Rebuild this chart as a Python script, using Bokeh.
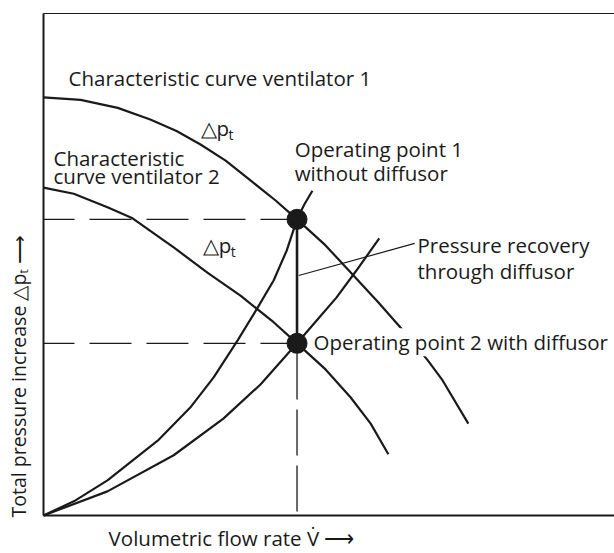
from bokeh.plotting import figure
from bokeh.models import Label
from bokeh.embed import file_html
from bokeh.resources import INLINE

# Characteristic curves of the two ventilators (relative units)
fan1_x = [0, 6.5, 13.0, 18.7, 23.3, 27.5, 31.9, 36.3, 40.6, 44.4, 49.4, 53.8, 58.7, 63.4, 67.3, 69.9, 74.4]
fan1_y = [83.3, 82.8, 81.2, 78.9, 76.6, 73.9, 70.7, 66.7, 62.8, 59.0, 53.8, 48.4, 42.4, 36.3, 30.9, 26.9, 18.3]
fan2_x = [0, 5.3, 11.2, 15.6, 22.8, 28.7, 34.5, 40.3, 44.4, 49.4, 53.8, 57.3, 60.4]
fan2_y = [65.3, 64.1, 61.4, 59.2, 53.4, 48.4, 43.8, 38.5, 34.3, 29.1, 23.5, 18.3, 12.2]
# System (plant) curves from the origin
sys1_x = [0, 5.6, 11.2, 20.0, 25.7, 29.8, 34.0, 37.5, 40.3, 42.6, 44.4, 45.7, 47.1]
sys1_y = [0, 3.0, 7.0, 14.9, 21.5, 27.5, 34.9, 41.4, 46.8, 52.8, 59.0, 62.0, 64.7]
sys2_x = [0, 11.2, 22.8, 31.5, 38.0, 44.4, 47.8, 51.3, 54.8, 58.8]
sys2_y = [0, 4.8, 12.0, 19.3, 26.1, 34.3, 38.8, 43.4, 48.8, 55.2]
# Operating points
op_x = [44.4, 44.4]
op_y = [59.0, 34.3]
# Leader line for "Pressure recovery"
lead_x = [44.7, 65.0]
lead_y = [47.8, 54.2]
# Axis extent (diagram box)
box_x = [0, 100]
box_y = [0, 100]

INK = "#1a1a1a"
FONT = "Open Sans"
FS = "20.5px"

p = figure(width=614, height=553, x_range=(-7.53, 100), y_range=(-7.57, 102.59),
           output_backend="svg", toolbar_location=None,
           min_border_left=0, min_border_right=0, min_border_top=0, min_border_bottom=0)
p.outline_line_color = None
p.grid.visible = False
p.axis.visible = False
p.background_fill_color = "white"
p.border_fill_color = "white"

# diagram box: left axis, bottom axis, top line
p.line([box_x[0], box_x[0]], box_y, line_color=INK, line_width=2)
p.line(box_x, [box_y[0], box_y[0]], line_color=INK, line_width=2)
p.line(box_x, [box_y[1], box_y[1]], line_color=INK, line_width=1.2)

# dashed helper lines
p.line([0, op_x[0]], [op_y[0], op_y[0]], line_color=INK, line_width=1.3, line_dash="42 15", line_dash_offset=11)
p.line([0, op_x[1]], [op_y[1], op_y[1]], line_color=INK, line_width=1.3, line_dash="42 15", line_dash_offset=11)
p.line([op_x[1], op_x[1]], [0.8, op_y[1]], line_color=INK, line_width=1.3, line_dash="46 10")

# curves
p.line(fan1_x, fan1_y, line_color=INK, line_width=2.2)
p.line(fan2_x, fan2_y, line_color=INK, line_width=2.2)
p.line(sys1_x, sys1_y, line_color=INK, line_width=2.2)
p.line(sys2_x, sys2_y, line_color=INK, line_width=2.2)

# pressure recovery
p.line(op_x, op_y, line_color=INK, line_width=2.6)
p.line(lead_x, lead_y, line_color=INK, line_width=1.2)

p.scatter(op_x, op_y, size=20, fill_color=INK, line_color=INK)

def lab(x, y, text, size=FS, **kw):
    opts = dict(text_font=FONT, text_font_size=size, text_color=INK,
                text_align="left", text_baseline="middle")
    opts.update(kw)
    p.add_layout(Label(x=x, y=y, text=text, **opts))

lab(4.4, 87.1, "Characteristic curve ventilator 1")
lab(27.5, 77.1, "\u25b3p")
lab(32.4, 75.8, "t", size="14px")
lab(1.75, 71.3, "Characteristic")
lab(1.75, 67.7, "curve ventilator 2")
lab(44.0, 73.1, "Operating point 1")
lab(44.0, 68.3, "without diffusor")
lab(27.9, 53.8, "\u25b3p")
lab(32.8, 52.5, "t", size="14px")
lab(65.5, 53.8, "Pressure recovery")
lab(65.5, 48.8, "through diffusor")
lab(47.3, 34.5, "Operating point 2 with diffusor", background_fill_color="white", padding=0)
lab(11.4, -4.4, "Volumetric flow rate V\u0307 \u27f6")
lab(-4.4, -0.4, "Total pressure increase \u25b3p\u209c \u27f6", size="19.5px", angle=90, angle_units="deg")

open("out.html", "w").write(file_html(p, INLINE))
